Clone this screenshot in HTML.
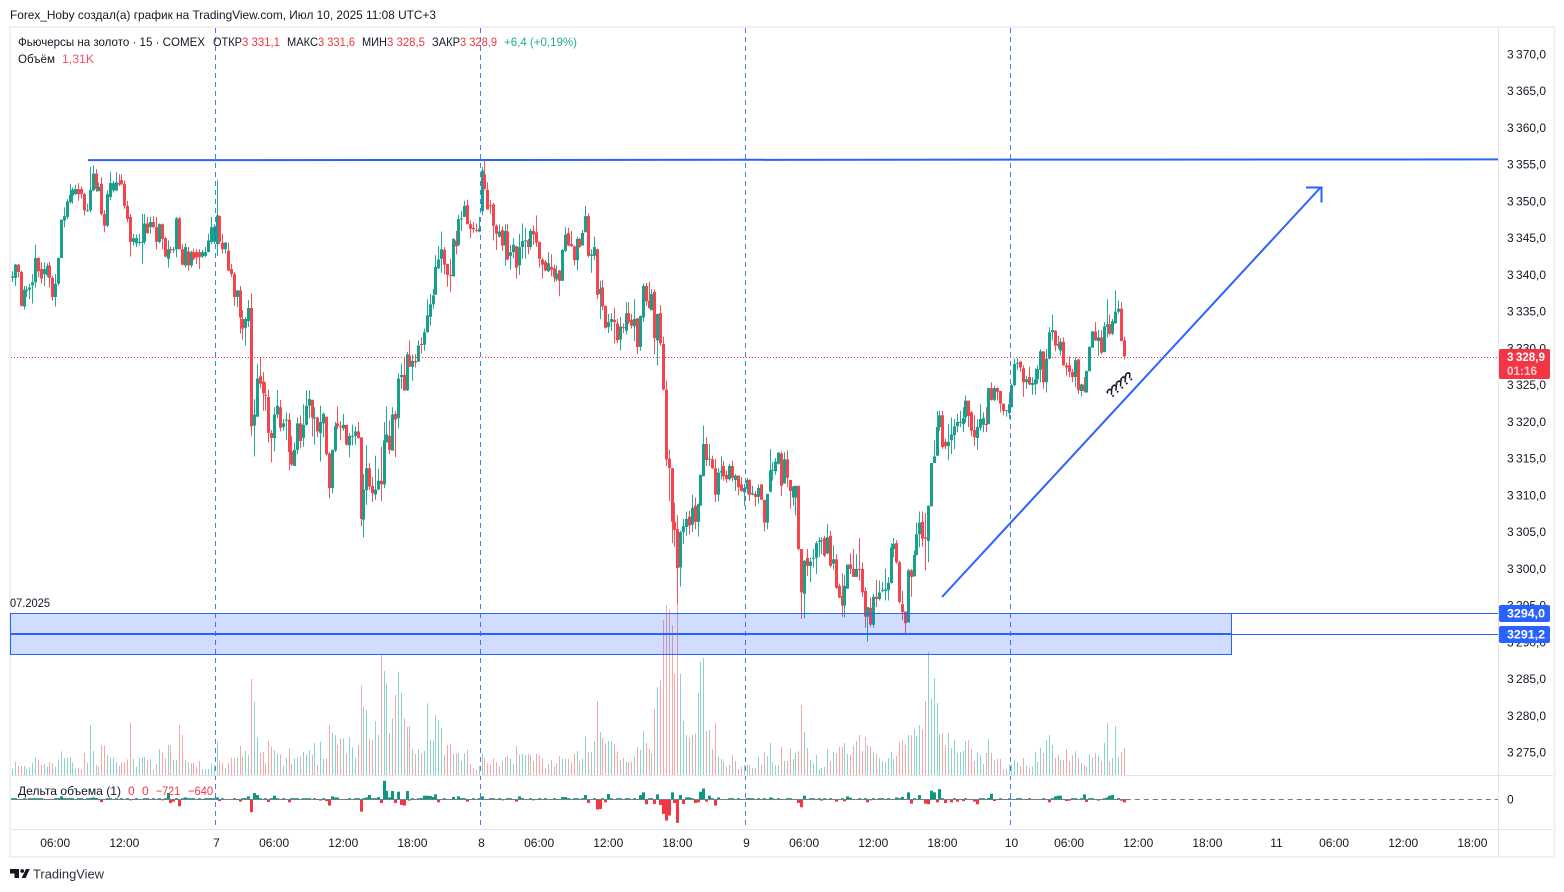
<!DOCTYPE html>
<html lang="ru">
<head>
<meta charset="utf-8">
<title>Gold Futures 15m chart</title>
<style>
html,body{margin:0;padding:0;background:#fff;width:1564px;height:892px;overflow:hidden}
svg{display:block;font-family:"Liberation Sans","DejaVu Sans",sans-serif}
text{font-size:12px;fill:#131722}
</style>
</head>
<body>
<svg id="chart" xmlns="http://www.w3.org/2000/svg" width="1564" height="892" viewBox="0 0 1564 892">
<text x="10" y="19" textLength="426" lengthAdjust="spacingAndGlyphs">Forex_Hoby создал(а) график на TradingView.com, Июл 10, 2025 11:08 UTC+3</text>
<rect x="10" y="27" width="1544.5" height="830" fill="#fff" stroke="#f0f0f0" stroke-width="2"/>
<g id="volumeLayer"></g>
<g id="candleLayer"></g>
<g id="deltaLayer"></g>
<g id="sessionLayer"></g>
<g id="overlayLayer"></g>
<line x1="11" x2="1553" y1="775.5" y2="775.5" stroke="#e0e3eb"/>
<line x1="11" x2="1553" y1="829.5" y2="829.5" stroke="#e0e3eb"/>
<line x1="1498.5" x2="1498.5" y1="28" y2="856" stroke="#e0e3eb"/>
<g id="priceAxis"></g>
<g id="timeAxis"></g>
<g id="priceTags"></g>
<g>
<text x="18" y="46" textLength="187" lengthAdjust="spacingAndGlyphs">Фьючерсы на золото · 15 · COMEX</text>
<text x="213" y="46" textLength="29" lengthAdjust="spacingAndGlyphs">ОТКР</text>
<text x="242" y="46" textLength="38" lengthAdjust="spacingAndGlyphs" style="fill:#f23645">3 331,1</text>
<text x="287" y="46" textLength="31" lengthAdjust="spacingAndGlyphs">МАКС</text>
<text x="318" y="46" textLength="37" lengthAdjust="spacingAndGlyphs" style="fill:#f23645">3 331,6</text>
<text x="362" y="46" textLength="25" lengthAdjust="spacingAndGlyphs">МИН</text>
<text x="387" y="46" textLength="38" lengthAdjust="spacingAndGlyphs" style="fill:#f23645">3 328,5</text>
<text x="432" y="46" textLength="28" lengthAdjust="spacingAndGlyphs">ЗАКР</text>
<text x="460" y="46" textLength="37" lengthAdjust="spacingAndGlyphs" style="fill:#f23645">3 328,9</text>
<text x="504" y="46" textLength="73" lengthAdjust="spacingAndGlyphs" style="fill:#22ab94">+6,4 (+0,19%)</text>
<text x="18" y="63" textLength="37" lengthAdjust="spacingAndGlyphs">Объём</text>
<text x="62" y="63" textLength="32" lengthAdjust="spacingAndGlyphs" style="fill:#f7525f">1,31K</text>
</g>
<g>
<text x="18" y="795" textLength="103" lengthAdjust="spacingAndGlyphs">Дельта объема (1)</text>
<text x="128" y="795" style="fill:#f23645">0</text>
<text x="142" y="795" style="fill:#f23645">0</text>
<text x="156" y="795" textLength="24" lengthAdjust="spacingAndGlyphs" style="fill:#f23645">−721</text>
<text x="188" y="795" textLength="25" lengthAdjust="spacingAndGlyphs" style="fill:#f23645">−640</text>
</g>
<g>
<path fill="#131722" d="M10 869h9v9h-4.5v-4.5H10zM26 869h3.8l-4.2 9h-4z"/>
<circle cx="22.2" cy="871" r="1.9" fill="#131722"/>
<text x="33" y="878.5" textLength="71" lengthAdjust="spacingAndGlyphs" style="font-size:13px;fill:#2a2e39">TradingView</text>
</g>
</svg>
<script>
const barOpen=[
3339.6,3339.6,3341.4,3340.4,3335.7,3337.8,3338.0,3338.6,3339.0,3342.3,
3340.8,3340.1,3340.0,3341.3,3339.6,3337.0,3338.8,3342.3,3347.4,3347.9,
3349.9,3350.8,3351.0,3351.7,3351.7,3351.0,3348.7,3348.8,3351.5,3353.8,
3351.4,3352.4,3348.3,3346.7,3350.6,3351.5,3351.5,3352.5,3352.9,3352.4,
3349.4,3347.9,3344.5,3344.3,3344.4,3344.4,3344.5,3347,3346.5,3347.2,
3346.5,3344.5,3346.9,3345,3342.2,3343.5,3343.4,3343.5,3347.7,3343.5,
3341.3,3343.2,3341.3,3343.1,3343.1,3343.1,3342.5,3342.6,3343.1,3344.5,
3344.5,3344.2,3348,3344.4,3343.5,3343.3,3340.8,3340.1,3337,3337.9,
3334,3332.8,3333.7,3335.5,3319.5,3320.7,3326.2,3325.5,3323.7,3323.4,
3318.5,3317.8,3321,3322,3319.3,3320.2,3320.3,3316,3314,3316.2,
3319.8,3317.8,3319.6,3322.2,3323,3320.5,3320.6,3318.5,3319.8,3320.7,
3315.7,3311,3316.1,3319.8,3319.4,3319.1,3319.6,3316.8,3318.1,3318.1,
3318.7,3317.9,3306.7,3310.7,3313.7,3311.3,3310.1,3310.8,3312,3311.5,
3317.2,3318.1,3316.1,3321.1,3320.5,3326.1,3326.4,3324.3,3329,3327.5,
3328.3,3328.2,3330.6,3330.5,3332.2,3334.3,3336,3337.3,3340.9,3342.2,
3343.4,3341.5,3340,3339.8,3344.7,3344.1,3347.6,3347.9,3349.5,3346.9,
3346.4,3346.1,3345.9,3348.7,3353.7,3351.6,3349.5,3349.6,3346.7,3345.2,
3346.1,3344,3345.9,3342.6,3343.1,3343.9,3341.3,3343.8,3344.6,3344.7,
3343.8,3346,3345.8,3344.5,3342.1,3341.8,3340.5,3341.1,3340.9,3339.4,
3340.6,3339.2,3343.3,3345.7,3344.2,3343.9,3342,3344.9,3344,3345.8,
3348,3342.6,3342.6,3343.5,3337.4,3338.3,3335.8,3332.9,3333.6,3333.9,
3333.4,3331.2,3332.9,3332.4,3334.8,3333.9,3333,3334.1,3330.2,3334.2,
3338.5,3336.5,3335.2,3337.7,3331.1,3334.8,3330.6,3324.4,3315,3313.7,
3306.4,3305.4,3300.2,3305,3305.7,3307.1,3306,3308.6,3306.4,3308.6,
3312.6,3317,3314.9,3314.9,3313.7,3310.1,3313.1,3314,3312.8,3312.2,
3314,3312.1,3312.7,3311.5,3310.4,3310.9,3312.1,3310.1,3310.2,3309.8,
3311.5,3309.4,3306.3,3310.5,3313.4,3313.3,3314.3,3315.7,3311.6,3314.9,
3312.1,3309.7,3309.7,3311.3,3302.7,3296.6,3301.5,3300.4,3301.4,3301.5,
3303.7,3303.8,3304.2,3302.1,3304.5,3300.7,3301.3,3297.7,3296.3,3295,
3297.3,3300.6,3300,3298.9,3300,3300,3297,3293.5,3294.7,3292.4,
3296.2,3295.9,3297,3297,3297.1,3298.1,3302.7,3303.5,3300.9,3295.2,
3294.2,3292.7,3299.8,3299,3301.9,3304.7,3306.4,3304.3,3303.8,3308.5,
3314.4,3315.4,3319.3,3320.9,3317.3,3316.7,3317.5,3318.2,3319.4,3319.9,
3319.7,3320.6,3322.9,3321.3,3318.9,3317.8,3319.2,3319.6,3319.7,3319.7,
3324.6,3323,3324.6,3324.2,3322.5,3321.6,3321.2,3322,3325,3327.9,
3328.2,3327.3,3325.4,3326.1,3325,3325.1,3325.8,3327.1,3329.6,3325.4,
3328.6,3332.2,3332.4,3330.6,3329.7,3330.9,3327.7,3327.7,3326.8,3326.1,
3328.5,3324.2,3325.1,3324,3326.9,3330.1,3332.3,3331,3331.5,3329.5,
3332.9,3333.3,3332,3333.4,3335,3335.4,3331.1];
const barHigh=[
3340.5,3341.5,3341.5,3340.6,3338.5,3338.5,3338.8,3340.1,3344.1,3342.4,
3341.7,3341.7,3341.6,3341.8,3339.9,3340.1,3342.4,3347.6,3349.2,3350.3,
3352.4,3351.9,3352.3,3352.5,3352,3351.2,3349.7,3354.7,3354.9,3354.4,
3352.6,3353.3,3348.8,3351.5,3354,3352.8,3354,3353.7,3353.7,3352.8,
3350.1,3348.3,3345.6,3345.5,3345.6,3348.3,3348.3,3347.9,3347.9,3348,
3347.9,3347,3347,3345.2,3344.7,3343.9,3343.8,3347.9,3347.9,3344.2,
3344.3,3343.8,3343.3,3343.6,3343.5,3343.5,3343.4,3343.8,3345.6,3347.9,
3346.9,3352.9,3348.1,3345.6,3344.5,3344.4,3341.5,3340.4,3337.9,3338.5,
3335.2,3334.3,3336.6,3337.5,3323.1,3327.9,3328.8,3326.8,3325.4,3324.4,
3318.9,3322,3324.3,3323,3320.4,3321.3,3321.2,3318.1,3317.2,3320.6,
3320.9,3322.4,3324.3,3324.3,3323,3322,3320.7,3322.2,3321.3,3320.7,
3315.9,3316.2,3320,3322.1,3320.1,3321.1,3319.6,3318.5,3319.6,3319.4,
3320,3317.9,3312.9,3316.8,3314.4,3312.5,3315.4,3313.6,3316.6,3320,
3322.1,3320.2,3322,3321.5,3326.6,3327.9,3328.8,3329.5,3331.1,3329.2,
3329.2,3331.1,3331.5,3332.7,3336.7,3337.4,3338.1,3342.7,3343.9,3345.9,
3343.8,3341.5,3342.2,3345,3346,3348.2,3348.7,3350.1,3350.2,3347.4,
3347.2,3347,3347.9,3354.7,3355.6,3352.6,3350.2,3349.8,3346.9,3346.9,
3346.6,3346.9,3346.9,3344.1,3345,3344,3345.6,3347,3346.4,3344.9,
3346.3,3346.7,3348.1,3344.5,3342.3,3342,3343.1,3342.8,3341.4,3341.3,
3340.7,3343.5,3346.5,3346.4,3346,3344,3345.2,3345,3346.1,3349.4,
3348.4,3343.5,3345.2,3343.6,3339.2,3339.3,3335.8,3334.7,3334.8,3335.5,
3334,3334.3,3333.4,3336.3,3336.3,3334.7,3336.7,3334.1,3334.5,3338.8,
3338.9,3339.1,3338.1,3338,3334.7,3335.9,3331.6,3325.6,3316.2,3313.7,
3309,3307.3,3305.2,3306.8,3307.8,3307.9,3310.1,3309.7,3308.9,3312.8,
3319.5,3317.9,3317,3315.4,3315,3313.7,3315.3,3314.7,3313.4,3314.3,
3314.7,3312.9,3312.7,3312.5,3311.6,3312.4,3312.2,3311.3,3310.6,3311.5,
3311.5,3309.4,3310.2,3316.3,3314.5,3315.1,3315.9,3316,3315.9,3316.1,
3312.1,3311.3,3311.3,3311.3,3302.7,3301.2,3302.7,3301.5,3302.7,3303.8,
3304.3,3304.3,3304.5,3306.1,3305.2,3303.2,3302,3298,3299.4,3299.2,
3300.6,3302.1,3302.7,3302,3304.2,3300.9,3297.5,3294.8,3296.1,3296.6,
3298.5,3298.4,3298.2,3300,3298.9,3303.5,3304.2,3303.9,3301.1,3297,
3294.2,3300,3300,3302.5,3306.3,3307.8,3307.8,3307.6,3308.6,3314.4,
3317.5,3321.5,3321.5,3321.5,3317.7,3319.7,3320.6,3320.4,3321.1,3321.5,
3322,3323.6,3322.9,3321.5,3320.9,3320.4,3322.4,3321.3,3322,3324.6,
3325.4,3324.9,3324.7,3324.2,3322.5,3321.6,3324,3325.2,3328.6,3328.7,
3328.3,3327.7,3326.3,3327.5,3326.1,3327.3,3327.7,3329.9,3329.6,3329.9,
3332.9,3334.6,3332.5,3331.7,3331.4,3331.5,3328.1,3328.9,3327.2,3328.8,
3328.6,3325.2,3326.1,3327,3330.3,3332.4,3333.6,3332.5,3332.5,3333.6,
3336.7,3334.6,3334,3337.9,3336.5,3336.3,3331.6];
const barLow=[
3339,3338.5,3339.7,3335.7,3335.3,3337,3336.7,3336.1,3338.3,3339.7,
3338.8,3338.5,3339.7,3338.3,3336.5,3335.7,3338.6,3342.3,3346.5,3347.6,
3349.7,3349.7,3350.9,3350.1,3350.4,3348.1,3348.6,3348.5,3351.4,3351.3,
3351.4,3348.1,3345.8,3346.5,3350.2,3351.2,3351.4,3352.1,3352.2,3349,
3347.2,3342.5,3344,3343.8,3344,3341.5,3344.2,3345.6,3345.6,3346.4,
3343.5,3344.3,3343.5,3342.4,3341,3342.9,3343,3342.4,3343.5,3341.3,
3341,3340.6,3341,3342,3341.5,3340.8,3342.3,3342.4,3343.1,3344.2,
3344.2,3342.6,3344.2,3342.9,3342.9,3340.5,3339.7,3335.8,3335.6,3332,
3331.2,3330.4,3332.9,3318.1,3315.3,3320.7,3324.6,3321.5,3321.5,3317.2,
3314.5,3316,3320.5,3318.7,3318.8,3317.5,3313.4,3314,3314,3315.6,
3316.4,3316.6,3319.5,3320.5,3318,3316.9,3317.9,3314.6,3317.9,3315.4,
3309.6,3310.3,3315.9,3319,3317.5,3318.8,3316.8,3315.2,3316.8,3316.9,
3317.7,3305.8,3304.3,3308.7,3310.7,3309.1,3309.4,3310.7,3309.2,3311,
3317.2,3315.6,3316.1,3315.2,3319.1,3324.5,3324.2,3324.2,3327.5,3325.6,
3327.4,3328.2,3329.3,3329.7,3332.2,3333.1,3335.4,3337.3,3340.8,3340.3,
3340.1,3338.4,3337.7,3339.8,3342.8,3343.9,3346,3347.9,3346.9,3345,
3345.7,3345.8,3345.8,3348.1,3351.6,3348.9,3348.3,3344.7,3343.4,3345.1,
3343.3,3341.3,3342,3340.7,3342.3,3339.5,3340,3342.2,3342.2,3342.8,
3343.5,3344.1,3343.8,3341,3339.5,3340.5,3340.4,3339.8,3339,3339.1,
3337.1,3339.2,3343.1,3343.9,3343.8,3341.3,3340.6,3343.7,3344,3345.8,
3342.4,3340.3,3342,3336.7,3334,3335.2,3332.7,3332.1,3332.4,3330.7,
3330.7,3329.7,3332.1,3331.9,3333.3,3332.7,3331,3329.2,3329.7,3333.6,
3335.8,3335.4,3335.2,3329.2,3327.7,3330.4,3324.3,3314,3309.2,3303.5,
3303,3295.3,3297.6,3303.4,3304.5,3304.7,3305,3305.4,3304.4,3308.6,
3312.6,3314,3314,3313.6,3309.1,3309.2,3312.2,3312,3311.7,3312,
3311.9,3310.6,3310,3310.5,3308.6,3310.2,3309.2,3310,3308.5,3308.9,
3309.4,3305.1,3305.4,3310.4,3312,3312.8,3314.2,3309.9,3311.6,3311.1,
3308.2,3308.6,3307.3,3302.5,3293.2,3293.3,3299,3298.2,3300.2,3299.3,
3301.6,3302,3301.6,3302,3300.2,3299.9,3297.3,3296,3293.5,3293.4,
3297.3,3299.3,3298.9,3298.9,3298.4,3296.2,3292,3290.1,3292.1,3292,
3294.8,3295.7,3296.8,3295.7,3295.7,3298,3301.6,3300.7,3295.3,3293,
3291,3292.7,3296.2,3298.9,3301.8,3302.9,3303,3299.8,3300.9,3308.5,
3314.4,3315.4,3318.8,3316.3,3316.3,3314.8,3315.6,3316.3,3318.6,3319.3,
3318.6,3319.9,3319.3,3318.1,3316.7,3316.2,3318.8,3318.6,3318.6,3319.7,
3322.9,3322.8,3322.9,3321.3,3320.9,3320.7,3320.4,3322,3324.9,3327,
3326.8,3323.4,3324.5,3325,3323.7,3323.7,3325.2,3325.4,3324.5,3324,
3328.5,3331.1,3329.6,3329.9,3329,3327.7,3326.3,3326.1,3325.4,3324.7,
3323.8,3323.5,3324,3324,3326.9,3330.1,3331,3329,3329.2,3329.5,
3331.5,3331.8,3331.8,3333.4,3334.7,3331,3328.5];
const barClose=[
3339.8,3341.4,3340.4,3335.8,3338,3338,3338.3,3339,3342.3,3340.5,
3339.5,3340.8,3341.2,3339.6,3337,3338.8,3342.3,3347.5,3348,3350,
3350.9,3351.6,3351.7,3351,3351,3348.8,3348.8,3351.6,3353.8,3351.7,
3352,3348.3,3346.7,3351,3352.5,3352.5,3352.6,3352.3,3352.4,3349.4,
3347.6,3344.5,3345,3345,3344.5,3344.5,3347,3345.7,3347.2,3346.5,
3344.5,3346.9,3344.9,3342.5,3343.5,3343.4,3343.5,3347.7,3343.5,3341.4,
3343.8,3341.3,3343.1,3342.2,3342.4,3342.4,3343.1,3343.1,3344.7,3346.5,
3346.5,3348.1,3344.5,3343.5,3344.4,3340.6,3340.1,3337,3337.9,3334.2,
3332.7,3334,3335.5,3319.4,3321,3325.9,3325.2,3323.9,3323.6,3318.5,
3317.8,3321,3322.2,3319.2,3319.8,3320.3,3315.9,3314.2,3316.2,3319.8,
3317.4,3319.6,3322.2,3323.1,3320.6,3320.6,3318.7,3320,3321.1,3315.6,
3311,3316.2,3319.4,3319.4,3319.3,3319.6,3316.9,3318.1,3318.1,3318.7,
3317.8,3306.8,3310.8,3313.7,3311.2,3310.3,3310.8,3312,3311.5,3317.5,
3318.3,3316.2,3321,3320.3,3325.9,3326.4,3324.3,3329.2,3327.5,3328.3,
3328.1,3330.4,3330.5,3332.2,3334.5,3336,3337.2,3341.1,3342.1,3343.5,
3341.4,3340,3339.9,3344.9,3343.9,3347.6,3347.7,3349.4,3346.9,3346.3,
3346.2,3346,3346.3,3354.2,3351.7,3348.9,3349.4,3346.7,3345.6,3345.9,
3344,3346,3342.1,3343.1,3344.1,3341,3343.8,3344.6,3344.7,3343.8,
3346,3345.5,3344.4,3342.2,3341.4,3340.6,3341.6,3340.7,3339.7,3340.2,
3339.2,3343.4,3345.5,3344,3343.9,3342,3344.9,3343.8,3345.7,3348,
3342.6,3342.8,3343.8,3337.3,3338.1,3335.7,3332.8,3333.6,3334,3333.6,
3331.1,3333,3332.8,3334.8,3333.6,3333.1,3334,3330.2,3334.4,3338.5,
3336.4,3335.5,3337.4,3331.4,3334.7,3330.7,3324.4,3314.9,3313.7,3306.4,
3305.3,3300.1,3305,3305.8,3306.8,3305.9,3308.3,3306.4,3308.8,3312.8,
3317,3314.8,3315,3313.7,3310.1,3313.1,3313.3,3312.6,3312.2,3314,
3312.4,3312.7,3311.1,3310.6,3311,3312.1,3310.1,3310.3,3309.8,3311,
3309.4,3306.3,3310.2,3313.4,3313.5,3314.6,3315.8,3311.3,3314.9,3312.4,
3310.6,3311.2,3311.3,3302.7,3296.8,3301.1,3300.4,3301,3301.5,3303.5,
3303.8,3303.9,3301.8,3304.3,3300.4,3301.3,3297.4,3296.1,3295,3297.7,
3300.6,3300,3298.9,3300,3299.9,3296.8,3293.5,3294.8,3292.4,3296.2,
3295.9,3296.8,3297.1,3297.2,3298.1,3302.9,3303.4,3300.9,3295.5,3294.1,
3292.6,3299.8,3298.9,3301.9,3304.7,3306.3,3304.1,3304.1,3308.6,3314.4,
3315.3,3319.3,3320.9,3316.6,3316.7,3317.3,3318.3,3319.4,3320,3320,
3320.5,3322.9,3320.8,3318.8,3317.9,3319.3,3320.4,3320.5,3319.6,3324.6,
3323,3324.6,3324.1,3322.5,3321.5,3321.6,3322.4,3325,3327.9,3328,
3327.4,3325.4,3325.8,3325.1,3325.3,3325.8,3327.2,3329.6,3325.4,3328.6,
3332.2,3332.5,3330.4,3330.3,3330.9,3327.7,3327.4,3326.8,3326.1,3328.4,
3324.3,3325.1,3324.2,3326.9,3330.2,3332.3,3331.1,3331.5,3329.4,3333,
3333.3,3332,3333.7,3335,3335.4,3331,3328.9];
const barVolume=[
320,630,440,440,440,320,370,580,870,760,
490,530,400,620,580,400,760,1150,830,830,
870,620,320,340,290,1070,580,2430,1170,490,
400,1460,1430,970,840,830,630,440,620,630,
760,2530,780,400,810,870,870,730,760,290,
530,1260,1120,810,1460,1440,730,730,2430,1940,
730,630,580,580,400,680,290,290,290,530,
490,1620,700,580,340,580,840,840,890,1410,
890,1170,960,4670,3550,1810,1070,1130,570,1650,
1360,1210,1020,1000,450,840,1300,530,810,840,
920,1120,970,1210,970,1560,490,1620,780,810,
2430,2040,1940,1460,1750,1780,1050,1850,1340,840,
1460,4330,3300,3160,1750,1700,2620,1940,5830,5050,
4450,2030,2750,3890,5020,3970,2750,2330,2380,1220,
1020,1260,1020,1170,3480,1700,1650,2900,2670,2280,
970,1460,1510,1020,1050,1050,680,1050,1220,530,
340,240,440,1050,830,570,530,810,630,440,
700,870,920,810,530,1410,970,1020,970,1020,
970,680,1050,970,810,340,530,730,400,570,
920,780,780,780,630,1020,1170,700,810,1860,
1120,1120,1650,3600,2090,1800,1540,1650,1650,1510,
1120,730,830,630,630,660,920,1360,1220,2140,
1560,1260,1050,3210,4280,4620,7530,8260,8020,7290,
4910,8340,4910,2620,1940,1800,1940,2030,3970,5490,
5690,2140,2190,1260,2510,870,780,680,400,490,
970,680,290,400,490,530,490,340,340,870,
490,1100,920,1560,620,490,490,1360,680,680,
1310,780,1070,1150,3400,2090,1310,730,570,970,
290,360,400,1250,680,1120,1050,1360,1360,1560,
1020,970,1410,1650,1940,1170,1850,1460,1410,1120,
1020,810,680,630,840,1120,780,920,1600,1700,
1460,1940,1940,2240,1900,2430,2190,3600,5980,3740,
4710,3500,1990,2040,1460,2040,1310,1700,1070,1120,
1170,1650,1700,1260,680,1070,970,530,1070,1750,
1070,730,780,780,290,320,530,530,730,620,
440,830,440,360,400,1120,630,1310,1070,1700,
1940,1460,830,970,730,730,1260,680,960,1150,
810,580,490,400,1020,840,1070,920,680,1560,
2530,680,830,2380,870,1120,1310];
const barDelta=[
40,20,-20,-190,30,-30,40,100,60,20,
20,-30,-40,-150,-150,30,80,500,120,60,
120,30,-30,40,30,-40,30,180,300,200,
-40,-600,-100,60,40,-30,30,-30,20,-40,
30,-250,-40,30,-60,-30,50,20,-40,30,
-30,40,-250,100,1130,-750,-500,120,-1380,80,
300,80,120,60,-40,100,-30,40,60,120,
100,300,-380,60,-60,-120,-130,40,-200,-500,
40,30,500,-2520,1130,750,40,-200,30,-570,
30,630,120,-100,60,-30,-630,60,120,150,
-60,100,40,70,-30,60,-60,-300,30,-400,
-1260,500,300,280,-120,-200,-150,120,-80,60,
100,-2400,80,300,760,120,100,350,-760,3460,
1570,300,1510,-760,1390,-1130,-1260,1510,-300,60,
-60,80,30,630,630,560,380,880,-630,-190,
100,-60,-40,380,-60,500,120,60,-500,-30,
40,-60,100,500,-150,-60,40,60,-120,40,
-250,-30,40,60,-30,-500,500,60,-60,-30,
60,-250,-40,30,-200,40,-120,-30,60,-40,
-30,380,360,60,-60,40,60,-40,60,750,
-750,-120,40,-2000,-1900,60,-630,950,100,-60,
40,80,-40,60,30,-60,80,-30,750,1260,
-1000,60,40,-950,880,-1130,-2830,-4100,-3150,1260,
-750,-4530,750,-950,300,300,120,-750,-630,1380,
2000,-500,630,120,-1260,300,-60,-40,-30,40,
30,-30,40,-30,-60,60,20,40,-30,30,
-60,150,-60,300,60,-40,30,-120,-30,60,
40,-120,-30,-750,-1570,630,-60,40,30,-60,
80,-300,30,-60,40,-60,-500,-60,60,-440,
500,250,-60,-30,60,-60,30,-630,-250,120,
-120,60,100,-60,40,-60,-60,300,60,400,
-60,1260,-880,60,-100,750,-150,-880,-1000,1570,
1260,-630,1880,120,-760,-60,-630,80,-500,-60,
-400,60,-30,-120,-500,-1000,40,80,-60,200,
1000,-380,-80,60,-40,-60,30,-60,-100,60,
30,-30,-30,100,-80,-40,-60,-30,60,-120,
-630,80,500,630,630,-60,-380,-300,30,120,
-100,60,880,-560,40,60,-60,-300,-40,120,
300,630,750,-200,60,-320,-640];
const priceTicks=[3370,3365,3360,3355,3350,3345,3340,3335,3330,3325,3320,3315,3310,3305,3300,3295,3290,3285,3280,3275];
const timeTickBars=[15,39,71,91,115,139,163,183,207,231,255,275,299,323,347,367,391,415,439,459,483,507];
const timeTickLabels=["06:00","12:00","7","06:00","12:00","18:00","8","06:00","12:00","18:00","9","06:00","12:00","18:00","10","06:00","12:00","18:00","11","06:00","12:00","18:00"];
const sessionBars=[71,163,255,347];
const resistancePrices=[3355.62,3355.72];
const zoneTop=[3294.0];
const zoneMid=[3291.2];
const zoneBottom=[3288.4];
const lastPrice=[3328.9];

const NS='http://www.w3.org/2000/svg';
const xOf=i=>12+2.8804*i;
const yOf=p=>54.5+(3370-p)*7.348;
const volBase=775;
const volH=v=>v/48.6;
const deltaZero=799;
const deltaH=d=>d/190;
const fmt=p=>{const s=p.toFixed(1).replace('.',',');return s[0]+'\u2009'+s.slice(1);};
const make=(tag,parent)=>{const el=document.createElementNS(NS,tag);parent.appendChild(el);return el;};
const setAll=(el,o)=>{for(const k in o)el.setAttribute(k,o[k]);return el;};
const vLayer=document.getElementById('volumeLayer');
const cLayer=document.getElementById('candleLayer');
const dLayer=document.getElementById('deltaLayer');
const sLayer=document.getElementById('sessionLayer');
const oLayer=document.getElementById('overlayLayer');
const pAxis=document.getElementById('priceAxis');
const tAxis=document.getElementById('timeAxis');
const tags=document.getElementById('priceTags');

barClose.forEach((c,i)=>{
  const o=barOpen[i],up=c>=o,cx=Math.round(xOf(i));
  const vb=make('rect',vLayer);
  
  
  const vh=volH(barVolume[i]);
  setAll(vb,{x:cx,y:volBase-vh,width:1,height:vh,fill:up?'#8dd4c8':'#f9a6a6'});
  const w=make('rect',cLayer);
  
  
  setAll(w,{x:cx,y:yOf(barHigh[i]),width:1,height:Math.max(1,yOf(barLow[i])-yOf(barHigh[i])),fill:up?'#22ab94':'#f4505a'});
  const b=make('rect',cLayer);
  
  
  const top=yOf(Math.max(o,c));
  setAll(b,{x:cx-1,y:top,width:3,height:Math.max(1,yOf(Math.min(o,c))-top),fill:up?'#17a08c':'#f4444e'});
  const d=barDelta[i];
  const db=make('rect',dLayer);
  
  
  const dh=Math.max(0.8,Math.abs(deltaH(d)));
  setAll(db,{x:cx-1,y:d>=0?deltaZero-dh:deltaZero,width:3,height:dh,fill:d>=0?'#089981':'#f23645'});
});

const zeroLine=make('line',dLayer);


setAll(zeroLine,{x1:11,x2:xOf(barClose.length-1),y1:deltaZero+.5,y2:deltaZero+.5,stroke:'#787b86','stroke-width':1});
const zeroDash=make('line',dLayer);


setAll(zeroDash,{x1:xOf(barClose.length-1)+2,x2:1498,y1:deltaZero+.5,y2:deltaZero+.5,stroke:'#787b86','stroke-width':1,'stroke-dasharray':'5 4'});

sessionBars.forEach(i=>{
  const l=make('line',sLayer);
  
  
  const x=Math.floor(xOf(i))-0.5;
  setAll(l,{x1:x,x2:x,y1:28,y2:828,stroke:'#2962ff','stroke-width':1,'stroke-dasharray':'5 4','stroke-opacity':.85});
});

const lastLine=make('line',oLayer);


setAll(lastLine,{x1:11,x2:1498,y1:Math.round(yOf(lastPrice[0]))+.5,y2:Math.round(yOf(lastPrice[0]))+.5,stroke:'#f23645','stroke-width':1,'stroke-dasharray':'1 2'});

const res=make('line',oLayer);


setAll(res,{x1:88,x2:1498,y1:yOf(resistancePrices[0]),y2:yOf(resistancePrices[1]),stroke:'#2962ff','stroke-width':2});

const zone=make('rect',oLayer);


const zt=Math.round(yOf(zoneTop[0]))+.5,zm=Math.round(yOf(zoneMid[0])),zb=Math.round(yOf(zoneBottom[0]))+.5;
setAll(zone,{x:10.5,y:zt,width:1221,height:zb-zt,fill:'#2962ff','fill-opacity':.22,stroke:'#2962ff','stroke-width':1});
const zmLine=make('line',oLayer);


setAll(zmLine,{x1:10,x2:1232,y1:zm,y2:zm,stroke:'#2962ff','stroke-width':2});
const ztExt=make('line',oLayer);


setAll(ztExt,{x1:1232,x2:1498,y1:zt,y2:zt,stroke:'#2962ff','stroke-width':1});
const zmExt=make('line',oLayer);


setAll(zmExt,{x1:1232,x2:1498,y1:zm+.5,y2:zm+.5,stroke:'#2962ff','stroke-width':1});

const zoneDate=make('text',oLayer);


setAll(zoneDate,{x:10,y:607,textLength:40,lengthAdjust:'spacingAndGlyphs'});
zoneDate.textContent='07.2025';

const arrow=make('path',oLayer);


setAll(arrow,{d:'M942 597L1321 187M1306 187.5H1321.5V202.5',fill:'none',stroke:'#2962ff','stroke-width':2});

const note=make('text',oLayer);


setAll(note,{x:1119,y:390,'text-anchor':'middle','font-weight':'bold',transform:'rotate(-42 1119 385)'});
note.style.fontSize='13px';
note.style.letterSpacing='-1.8px';
note.textContent='?????';

priceTicks.forEach(p=>{
  const t=make('text',pAxis);
  
  
  setAll(t,{x:1507,y:yOf(p)+4,textLength:39,lengthAdjust:'spacingAndGlyphs'});
  t.textContent=fmt(p);
});
const zeroTick=make('text',pAxis);


setAll(zeroTick,{x:1507,y:803.5});
zeroTick.textContent='0';

timeTickBars.forEach((b,i)=>{
  const t=make('text',tAxis);
  
  
  setAll(t,{x:xOf(b),y:847,'text-anchor':'middle'});
  t.textContent=timeTickLabels[i];
});

const tagTop=make('rect',tags);


setAll(tagTop,{x:1499,y:605,width:51,height:17,rx:2,fill:'#2962ff'});
const tagTopT=make('text',tags);


setAll(tagTopT,{x:1507,y:617.5,textLength:38,lengthAdjust:'spacingAndGlyphs','font-weight':'bold'});
tagTopT.style.fill='#fff';
tagTopT.textContent=zoneTop[0].toFixed(1).replace('.',',');
const tagMid=make('rect',tags);


setAll(tagMid,{x:1499,y:626,width:51,height:17,rx:2,fill:'#2962ff'});
const tagMidT=make('text',tags);


setAll(tagMidT,{x:1507,y:638.5,textLength:38,lengthAdjust:'spacingAndGlyphs','font-weight':'bold'});
tagMidT.style.fill='#fff';
tagMidT.textContent=zoneMid[0].toFixed(1).replace('.',',');
const tagLast=make('rect',tags);


setAll(tagLast,{x:1499,y:349,width:51,height:30,rx:2,fill:'#f23645'});
const tagLastT=make('text',tags);


setAll(tagLastT,{x:1507,y:361,textLength:38,lengthAdjust:'spacingAndGlyphs','font-weight':'bold'});
tagLastT.style.fill='#fff';
tagLastT.textContent=fmt(lastPrice[0]);
const tagTimer=make('text',tags);


setAll(tagTimer,{x:1507,y:375,textLength:30,lengthAdjust:'spacingAndGlyphs','font-weight':'bold'});
tagTimer.style.fill='#fcc6cb';
tagTimer.textContent='01:16';
</script>
</body>
</html>
